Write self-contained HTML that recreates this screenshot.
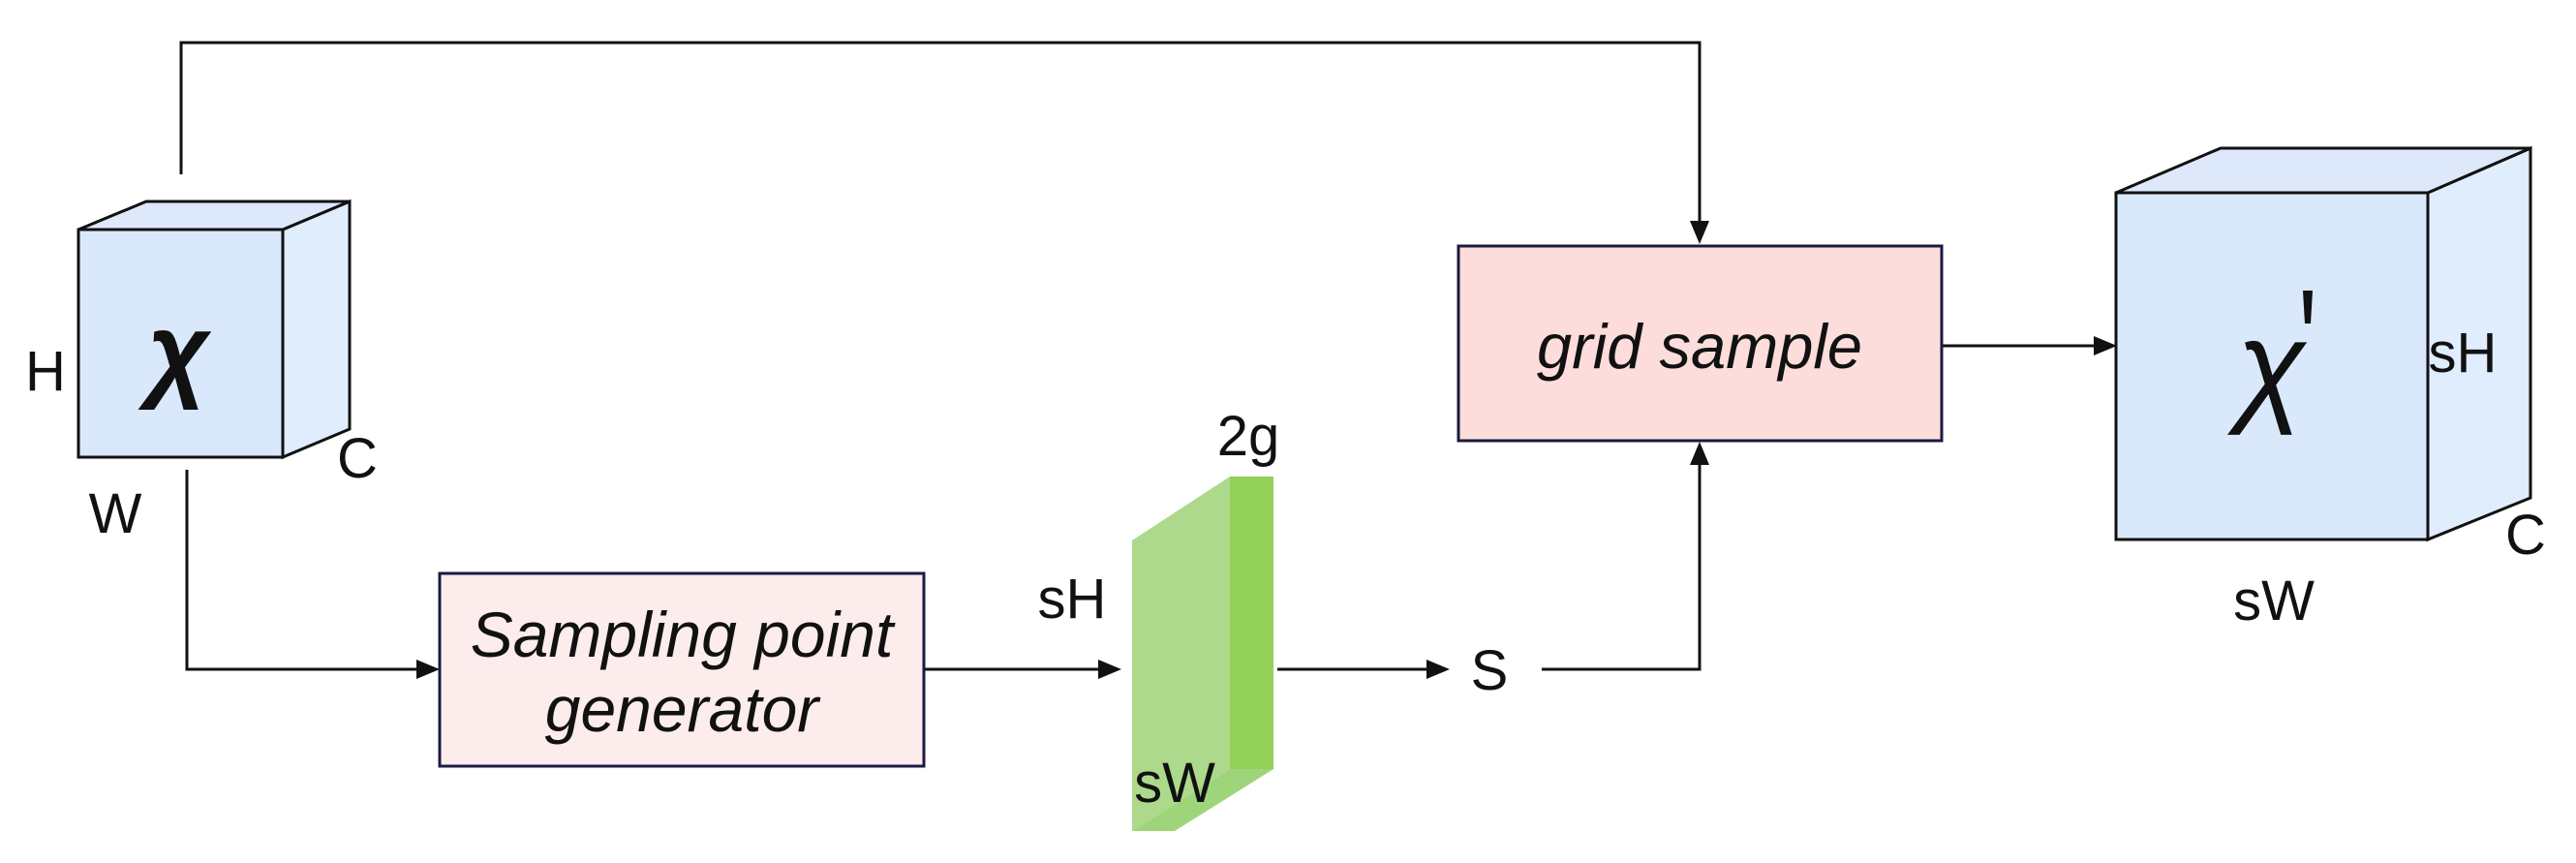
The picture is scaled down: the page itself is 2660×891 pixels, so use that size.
<!DOCTYPE html>
<html><head><meta charset="utf-8"><style>
html,body{margin:0;padding:0;background:#fff;}
svg{display:block;}
text{font-family:"Liberation Sans",sans-serif;fill:#111;}
</style></head><body>
<svg width="2660" height="891" viewBox="0 0 2660 891" xmlns="http://www.w3.org/2000/svg">
<g stroke="#111" stroke-width="3" fill="none">
<polyline points="187,180 187,44 1755,44 1755,230"/>
<polyline points="193,485 193,691 430,691"/>
<line x1="954" y1="691" x2="1135" y2="691"/>
<line x1="1319" y1="691" x2="1475" y2="691"/>
<polyline points="1592,691 1755,691 1755,478"/>
<line x1="2005" y1="357" x2="2165" y2="357"/>
</g>
<g fill="#111">
<polygon points="1755,252 1745,228 1765,228"/>
<polygon points="454,691 430,681 430,701"/>
<polygon points="1158,691 1134,681 1134,701"/>
<polygon points="1497,691 1473,681 1473,701"/>
<polygon points="1755,456 1745,480 1765,480"/>
<polygon points="2186,357 2162,347 2162,367"/>
</g>
<g stroke="#111" stroke-width="3" stroke-linejoin="miter">
<polygon points="292,237 361,208 361,443 292,472" fill="#e0edfd"/>
<polygon points="81,237 151,208 361,208 292,237" fill="#dde9fb"/>
<rect x="81" y="237" width="211" height="235" fill="#dae8fc"/>
</g>
<text x="184" y="400" font-family="DejaVu Serif,serif" font-style="italic" font-weight="bold" font-size="110" text-anchor="middle">χ</text>
<text x="47" y="403" font-size="58" text-anchor="middle">H</text>
<text x="369" y="493" font-size="58" text-anchor="middle">C</text>
<text x="119" y="550" font-size="58" text-anchor="middle">W</text>
<rect x="454" y="592" width="500" height="199" fill="#fdecec" stroke="#1a1a40" stroke-width="3"/>
<text x="704" y="678" font-size="66" font-style="italic" text-anchor="middle">Sampling point</text>
<text x="704" y="755" font-size="66" font-style="italic" text-anchor="middle">generator</text>
<polygon points="1169,558 1270,492 1270,794 1169,858" fill="#acd98c"/>
<polygon points="1169,858 1213,858 1315,794 1270,794" fill="#9fd57a"/>
<rect x="1270" y="492" width="45" height="302" fill="#92d05a"/>
<text x="1289" y="470" font-size="58" text-anchor="middle">2g</text>
<text x="1107" y="638" font-size="58" text-anchor="middle">sH</text>
<text x="1213" y="828" font-size="58" text-anchor="middle">sW</text>
<text x="1538" y="712" font-size="58" text-anchor="middle">S</text>
<rect x="1506" y="254" width="499" height="201" fill="#fddcdc" stroke="#1a1a40" stroke-width="3"/>
<text x="1755" y="380" font-size="65" font-style="italic" text-anchor="middle">grid sample</text>
<g stroke="#111" stroke-width="3">
<polygon points="2507,199 2613,153 2613,514 2507,557" fill="#e0edfd"/>
<polygon points="2185,199 2293,153 2613,153 2507,199" fill="#dde9fb"/>
<rect x="2185" y="199" width="322" height="358" fill="#dae8fc"/>
</g>
<text x="2345" y="422" font-family="DejaVu Serif,serif" font-style="italic" font-size="130" text-anchor="middle">χ</text>
<polygon points="2378,300 2388,300 2386,334 2380,334" fill="#111"/>
<text x="2543" y="384" font-size="58" text-anchor="middle">sH</text>
<text x="2608" y="572" font-size="58" text-anchor="middle">C</text>
<text x="2348" y="640" font-size="58" text-anchor="middle">sW</text>
</svg>
</body></html>
